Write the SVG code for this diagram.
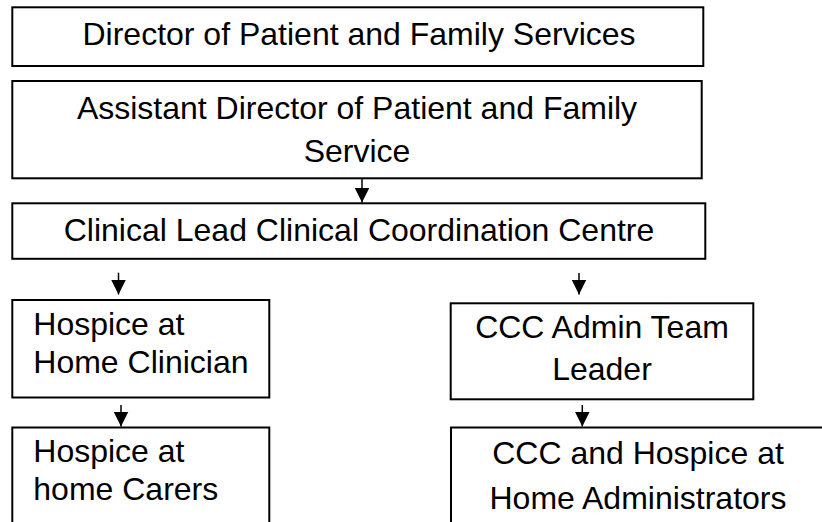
<svg xmlns="http://www.w3.org/2000/svg" width="822" height="522" viewBox="0 0 822 522">
<style>
.box{fill:#fff;stroke:#000;stroke-width:2}
.t{font-family:"Liberation Sans",Arial,sans-serif;font-size:32px;fill:#000}
.c{text-anchor:middle}
.conn line{stroke:#000;stroke-width:1.5}
</style>
<defs>
<marker id="ah" markerUnits="userSpaceOnUse" markerWidth="16" markerHeight="16" refX="15" refY="7.5" orient="auto">
<path d="M0,0 L15,7.5 L0,15 z" fill="#000"/>
</marker>
</defs>
<rect width="822" height="522" fill="#fff"/>
<g id="n1">
<rect class="box" x="12.3" y="7.3" width="691" height="58.7"/>
<text class="t c" x="359" y="45">Director of Patient and Family Services</text>
</g>
<g id="n2">
<rect class="box" x="12.3" y="81" width="689.4" height="97.3"/>
<text class="t c" x="357" y="119.3">Assistant Director of Patient and Family</text>
<text class="t c" x="357" y="161.7">Service</text>
</g>
<g id="n3">
<rect class="box" x="12.3" y="203.3" width="693" height="55.5"/>
<text class="t c" x="359" y="241">Clinical Lead Clinical Coordination Centre</text>
</g>
<g id="n4">
<rect class="box" x="12.3" y="300" width="257" height="97.5"/>
<text class="t" x="33.3" y="335">Hospice at</text>
<text class="t" x="33.3" y="373.3">Home Clinician</text>
</g>
<g id="n5">
<rect class="box" x="450.7" y="303.3" width="302.6" height="96"/>
<text class="t c" x="602" y="338">CCC Admin Team</text>
<text class="t c" x="602" y="380">Leader</text>
</g>
<g id="n6">
<rect class="box" x="12.3" y="427.5" width="257" height="110"/>
<text class="t" x="33.3" y="461.7">Hospice at</text>
<text class="t" x="33.3" y="500">home Carers</text>
</g>
<g id="n7">
<rect class="box" x="451" y="427.5" width="400" height="110"/>
<text class="t c" x="638" y="464">CCC and Hospice at</text>
<text class="t c" x="638" y="509.3">Home Administrators</text>
</g>
<g id="connectors" class="conn">
<line x1="362" y1="179" x2="362" y2="202.5" marker-end="url(#ah)"/>
<line x1="118.5" y1="272.7" x2="118.5" y2="294.5" marker-end="url(#ah)"/>
<line x1="579" y1="273" x2="579" y2="294.5" marker-end="url(#ah)"/>
<line x1="121" y1="405" x2="121" y2="426.5" marker-end="url(#ah)"/>
<line x1="582.3" y1="405" x2="582.3" y2="426.5" marker-end="url(#ah)"/>
</g>
</svg>
